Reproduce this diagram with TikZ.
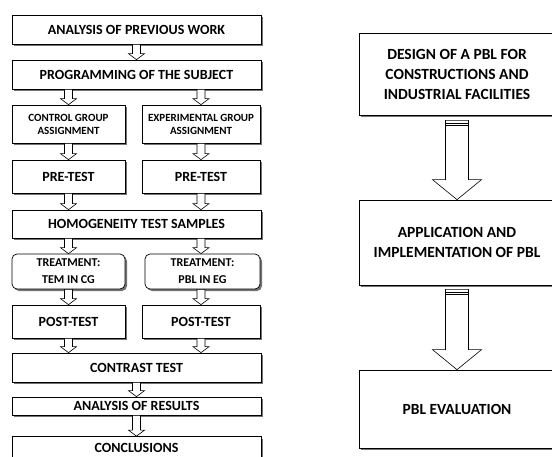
\documentclass[tikz,border=0pt]{standalone}
\usepackage{fontspec}
\setmainfont{Carlito}
\usetikzlibrary{calc,shadows}

\newcommand{\hollowarrow}[5]{%
  \draw[harrow] ($(#1)+(-#3,0)$) -- ($(#2)+(-#3,-#5)$) -- ($(#2)+(-#4,-#5)$) -- (#2)
    -- ($(#2)+(#4,-#5)$) -- ($(#2)+(#3,-#5)$) -- ($(#1)+(#3,0)$) -- cycle;}

\begin{document}
\begin{tikzpicture}[x=1pt,y=-1pt,
  box/.style={draw, fill=white, line width=0.7pt, inner sep=0pt, align=center,
    drop shadow={shadow xshift=2pt, shadow yshift=-2pt, fill=black!55, opacity=1},
    font=\fontsize{14}{16}\selectfont\bfseries},
  smallbox/.style={box, font=\fontsize{11}{13}\selectfont\bfseries},
  roundbox/.style={box, rounded corners=5pt, font=\fontsize{12}{17}\selectfont\bfseries},
  bigbox/.style={box, minimum width=196pt, font=\fontsize{15.5}{20}\selectfont\bfseries},
  harrow/.style={draw, fill=white, line width=0.6pt, line join=miter}]
  \useasboundingbox (0,0) rectangle (552,456);
  \node[box, minimum width=249pt, minimum height=29pt] (prev) at (136.5,29.5) {ANALYSIS OF PREVIOUS WORK};
  \node[box, minimum width=249pt, minimum height=29pt] (prog) at (136.5,74.5) {PROGRAMMING OF THE SUBJECT};
  \node[smallbox, minimum width=113pt, minimum height=38pt] (ctrl) at (68.5,124) {CONTROL GROUP\\ASSIGNMENT};
  \node[smallbox, minimum width=118pt, minimum height=38pt] (expg) at (201,124) {EXPERIMENTAL GROUP\\ASSIGNMENT};
  \node[box, minimum width=113pt, minimum height=33pt] (pre1) at (68.5,176.5) {PRE-TEST};
  \node[box, minimum width=118pt, minimum height=33pt] (pre2) at (201,176.5) {PRE-TEST};
  \node[box, minimum width=249pt, minimum height=28pt] (homo) at (136.5,224) {HOMOGENEITY TEST SAMPLES};
  \node[roundbox, minimum width=113pt, minimum height=35pt] (trt1) at (68.5,271.5) {TREATMENT:\\TEM IN CG};
  \node[roundbox, minimum width=115pt, minimum height=35pt] (trt2) at (202.5,271.5) {TREATMENT:\\PBL IN EG};
  \node[box, minimum width=113pt, minimum height=33pt] (post1) at (68.5,321.5) {POST-TEST};
  \node[box, minimum width=118pt, minimum height=33pt] (post2) at (201,321.5) {POST-TEST};
  \node[box, minimum width=249pt, minimum height=29pt] (contr) at (136.5,367.5) {CONTRAST TEST};
  \node[box, minimum width=249pt, minimum height=18pt] (res) at (136.5,406) {ANALYSIS OF RESULTS};
  \node[box, minimum width=249pt, minimum height=22pt] (concl) at (136.5,447.5) {CONCLUSIONS};
  \node[bigbox, minimum height=82pt] (design) at (457,74) {DESIGN OF A PBL FOR\\CONSTRUCTIONS AND\\INDUSTRIAL FACILITIES};
  \node[bigbox, minimum height=85pt] (apply) at (457,242.5) {APPLICATION AND\\IMPLEMENTATION OF PBL};
  \node[bigbox, minimum height=78pt] (eval) at (457,409) {PBL EVALUATION};
  \hollowarrow{prev.south}{prog.north}{4}{8}{6}
  \hollowarrow{prog.south -| ctrl.north}{ctrl.north}{4}{8}{6}
  \hollowarrow{prog.south -| expg.north}{expg.north}{4}{8}{6}
  \hollowarrow{ctrl.south}{pre1.north}{4}{8}{6}
  \hollowarrow{expg.south}{pre2.north}{4}{8}{6}
  \hollowarrow{pre1.south}{homo.north -| pre1.south}{4}{8}{6}
  \hollowarrow{pre2.south}{homo.north -| pre2.south}{4}{8}{6}
  \hollowarrow{homo.south -| trt1.north}{trt1.north}{4}{8}{6}
  \hollowarrow{homo.south -| pre2.south}{trt2.north -| pre2.south}{4}{8}{6}
  \hollowarrow{trt1.south}{post1.north}{4}{8}{6}
  \hollowarrow{post2.north |- trt2.south}{post2.north}{4}{8}{6}
  \hollowarrow{post1.south}{contr.north -| post1.south}{4}{8}{6}
  \hollowarrow{post2.south}{contr.north -| post2.south}{4}{8}{6}
  \hollowarrow{contr.south}{res.north}{4}{8}{6}
  \hollowarrow{res.south}{concl.north}{4}{8}{6}
  \coordinate (a1) at ($(design.south)+(0,5)$);
  \coordinate (a2) at ($(apply.south)+(0,4)$);
  \hollowarrow{a1}{apply.north}{11.5}{24.5}{20}
  \hollowarrow{a2}{eval.north}{11.5}{24.5}{20}
  \draw[line width=0.6pt] ($(a1)+(-11.5,2.5)$) -- ($(a1)+(11.5,2.5)$) ($(a1)+(-11.5,5)$) -- ($(a1)+(11.5,5)$);
  \draw[line width=0.6pt] ($(a2)+(-11.5,2.5)$) -- ($(a2)+(11.5,2.5)$) ($(a2)+(-11.5,5)$) -- ($(a2)+(11.5,5)$);
\end{tikzpicture}
\end{document}
